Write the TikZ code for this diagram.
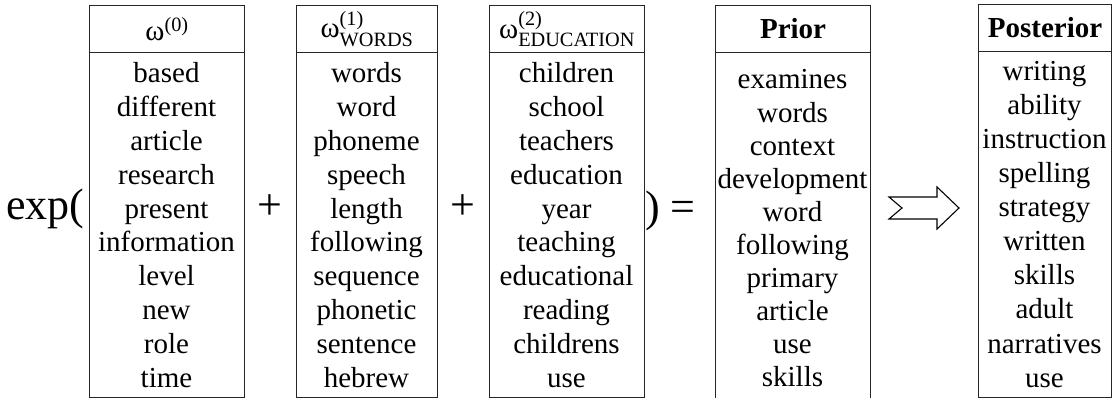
\documentclass[tikz,border=0pt]{standalone}
\usepackage{fontspec}
\setmainfont{Liberation Serif}
\usepackage{amsmath}
\begin{document}
\begin{tikzpicture}[x=1pt,y=-1pt,
  frame/.style={draw=black!85, line width=1.1pt, inner sep=0pt, anchor=north west},
  word/.style={font=\fontsize{29}{33}\selectfont, anchor=base, inner sep=0pt},
  head/.style={font=\fontsize{29}{33}\selectfont},
  op/.style={font=\fontsize{44}{50}\selectfont, anchor=base west, inner sep=0pt}]
\useasboundingbox (0,0) rectangle (1112,398);

% column frames: header cell and body cell
\node[frame, head, minimum width=155pt, minimum height=47pt] (h1) at (89,5) {$\text{ω}^{\text{(0)}}$};
\node[frame, minimum width=155pt, minimum height=345pt] (c1) at (89,52) {};
\node[frame, head, minimum width=141pt, minimum height=47pt] (h2) at (296,5) {$\text{ω}^{\text{(1)}}_{\text{WORDS}}$};
\node[frame, minimum width=141pt, minimum height=345pt] (c2) at (296,52) {};
\node[frame, head, minimum width=155pt, minimum height=47pt] (h3) at (489,5) {$\text{ω}^{\text{(2)}}_{\text{EDUCATION}}$};
\node[frame, minimum width=155pt, minimum height=345pt] (c3) at (489,52) {};
\node[frame, head, minimum width=155pt, minimum height=47pt] (h4) at (715,5) {\textbf{Prior}};
\node[frame, minimum width=155pt, minimum height=352pt] (c4) at (715,52) {};
\node[frame, head, minimum width=133pt, minimum height=47pt] (h5) at (978,4) {\textbf{Posterior}};
\node[frame, minimum width=133pt, minimum height=346pt] (c5) at (978,51) {};

% word lists
\foreach \w [count=\i] in {based,different,article,research,present,information,level,new,role,time}
  \node[word] (w1-\i) at (166.5,{83+(\i-1)*33.8}) {\w};
\foreach \w [count=\i] in {words,word,phoneme,speech,length,following,sequence,phonetic,sentence,hebrew}
  \node[word] (w2-\i) at (366.5,{83+(\i-1)*33.8}) {\w};
\foreach \w [count=\i] in {children,school,teachers,education,year,teaching,educational,reading,childrens,use}
  \node[word] (w3-\i) at (566.5,{83+(\i-1)*33.8}) {\w};
\foreach \w [count=\i] in {examines,words,context,development,word,following,primary,article,use,skills}
  \node[word] (w4-\i) at (792.5,{89+(\i-1)*33.1}) {\w};
\foreach \w [count=\i] in {writing,ability,instruction,spelling,strategy,written,skills,adult,narratives,use}
  \node[word] (w5-\i) at (1044.5,{81+(\i-1)*34}) {\w};

% operators
\node[op] (exp) at (6,220) {exp(};
\node[op, anchor=base] (plus1) at (270,220) {+};
\node[op, anchor=base] (plus2) at (463,220) {+};
\node[op] (eq) at (645,222) {) =};

% hollow arrow from prior to posterior
\draw[line width=1.1pt, line join=miter] (889,197) -- (937,197) -- (937,187) -- (959,208)
  -- (937,229) -- (937,219) -- (889,219) -- (902,208) -- cycle;
\end{tikzpicture}
\end{document}
